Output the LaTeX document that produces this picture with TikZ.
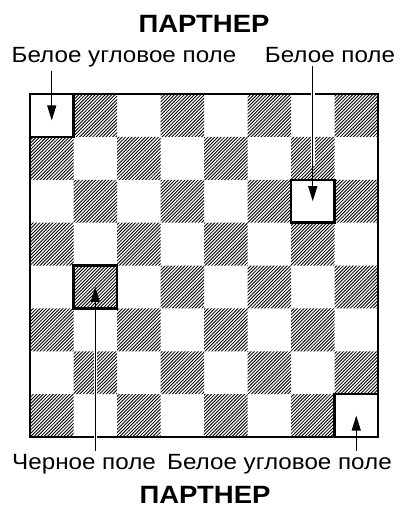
\documentclass[tikz,border=0pt]{standalone}
\usepackage{fontspec}
\setmainfont{Liberation Sans}
\newfontfamily\lblfont[FakeStretch=1.1]{Liberation Sans}
\usetikzlibrary{arrows.meta,calc}
\begin{document}
\begin{tikzpicture}[x=1pt,y=-1pt,
  hatch/.style={line width=0.85pt, black},
  boardbox/.style={draw, line width=2.2pt, minimum width=348pt, minimum height=343pt, inner sep=0pt, outer sep=0pt},
  hl/.style={draw, line width=2.4pt, minimum width=43.5pt, minimum height=42.875pt, inner sep=0pt, outer sep=0pt},
  lbl/.style={font=\lblfont\fontsize{22}{26}\selectfont, inner sep=0pt, outer ysep=3pt},
  ttl/.style={font=\lblfont\bfseries\fontsize{25}{30}\selectfont, inner sep=0pt},
  halo/.style={line width=3.5pt, white, shorten >=6pt},
  arr/.style={line width=1.2pt, -{Triangle[length=15pt,width=9pt]}}
]
\def\bx{30}\def\by{94}\def\sw{43.5}\def\sh{42.875}
\useasboundingbox (0,0) rectangle (401,508);
% hatched squares
\begin{scope}
\clip \foreach \r in {0,...,7}{ \foreach \k in {0,...,3}{ ({\bx+(2*\k+mod(\r+1,2))*\sw},{\by+\r*\sh}) rectangle ++(\sw,\sh) } };
\foreach \i in {0,...,206} \draw[hatch] ({\bx-345+\i*3.3},{\by+345}) -- ++(346,-346);
\end{scope}
% board
\node[boardbox] (board) at ({\bx+4*\sw},{\by+4*\sh}) {};
% highlighted squares
\node[hl] (sqA) at ({\bx+0.5*\sw},{\by+0.5*\sh}) {};
\node[hl] (sqW) at ({\bx+6.5*\sw},{\by+2.5*\sh}) {};
\node[hl] (sqB) at ({\bx+1.5*\sw},{\by+4.5*\sh}) {};
\node[hl] (sqC) at ({\bx+7.5*\sw},{\by+7.5*\sh}) {};
% titles
\node[ttl, anchor=base] (t1) at (204,33) {ПАРТНЕР};
\node[ttl, anchor=base] (t2) at (205,503) {ПАРТНЕР};
% labels
\node[lbl, anchor=base] (lTL) at (124,63) {Белое угловое поле};
\node[lbl, anchor=base] (lW) at (330,63) {Белое поле};
\node[lbl, anchor=base west] (lB) at (12,469) {Черное поле};
\node[lbl, anchor=base east] (lBR) at (392,469) {Белое угловое поле};
% arrows
\draw[halo] (lW.south -| sqW.center) -- ([yshift=8pt]sqW.north);
\draw[halo] (lB.north -| sqB.center) -- ([yshift=-8pt]sqB.south);
\draw[arr] (lTL.south -| sqA.center) -- ([yshift=-5pt]sqA.center);
\draw[arr] (lW.south -| sqW.center) -- (sqW.center);
\draw[arr] (lB.north -| sqB.center) -- (sqB.center);
\draw[arr] (lBR.north -| sqC.center) -- (sqC.center);
\end{tikzpicture}
\end{document}
